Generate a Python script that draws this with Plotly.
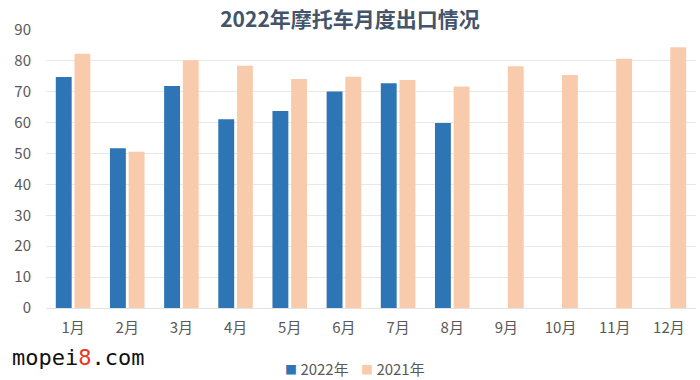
import plotly.graph_objects as go

months = ["1月", "2月", "3月", "4月", "5月", "6月", "7月", "8月", "9月", "10月", "11月", "12月"]
y2022 = [74.8, 51.7, 71.9, 61.1, 63.8, 70.1, 72.8, 59.9, None, None, None, None]
y2021 = [82.3, 50.6, 80.2, 78.4, 74.1, 74.9, 73.8, 71.7, 78.3, 75.4, 80.7, 84.4]
y_ticks = [0, 10, 20, 30, 40, 50, 60, 70, 80, 90]
series_names = ["2022年", "2021年"]
series_colors = ["#2E75B6", "#F8CBAD"]

FONT = "Noto Sans CJK SC"

fig = go.Figure()
fig.add_trace(go.Bar(x=months, y=y2022, name=series_names[0], marker=dict(color=series_colors[0], line=dict(width=0))))
fig.add_trace(go.Bar(x=months, y=y2021, name=series_names[1], marker=dict(color=series_colors[1], line=dict(width=0))))

legend_ann = []
for i, (nm, col) in enumerate(zip(series_names, series_colors)):
    legend_ann.append(dict(
        text=f"<span style='color:{col};font-size:12px'>■</span> {nm}",
        x=0.364 + i * 0.117, y=-0.216, xref="paper", yref="paper",
        xanchor="left", yanchor="middle", showarrow=False,
        font=dict(family=FONT, size=15, color="#595959")))

fig.update_layout(
    width=700, height=380,
    margin=dict(l=46, r=4, t=30, b=72, autoexpand=False),
    paper_bgcolor="white", plot_bgcolor="white",
    barmode="group", bargap=0.31, bargroupgap=0.15,
    showlegend=False,
    font=dict(family=FONT, color="#595959", size=15),
    title=dict(text="<b>2022年摩托车月度出口情况</b>", x=0.5, xanchor="center", y=0.947, yanchor="middle",
               font=dict(family=FONT, size=21, color="#44546A")),
    xaxis=dict(showgrid=False, showline=True, linecolor="#E3E3E3", linewidth=1, ticks="",
               automargin=False, tickfont=dict(size=15, color="#595959"), ticklabelstandoff=6),
    yaxis=dict(range=[0, 90], tickvals=y_ticks, showgrid=True, gridcolor="#E8E8E8", gridwidth=1,
               automargin=False, zeroline=False, showline=False, ticks="",
               tickfont=dict(size=15, color="#595959"), ticklabelstandoff=14),
    annotations=[dict(text="mopei<span style='color:#E8391D'>8</span>.com", x=0, y=0,
                      xref="paper", yref="paper", xanchor="left", yanchor="middle", showarrow=False,
                      font=dict(family="DejaVu Sans Mono", size=22, color="#111111"))] + legend_ann,
)
# convert watermark pixel position to paper coordinates
pw, ph = 700 - 46 - 4, 380 - 30 - 72
fig.layout.annotations[0].update(x=(10 - 46) / pw, y=(380 - 72 - 357) / ph)

fig.write_html("out.html", config={"displayModeBar": False},
               post_script="document.body.style.margin='0';document.body.style.overflow='hidden';")
